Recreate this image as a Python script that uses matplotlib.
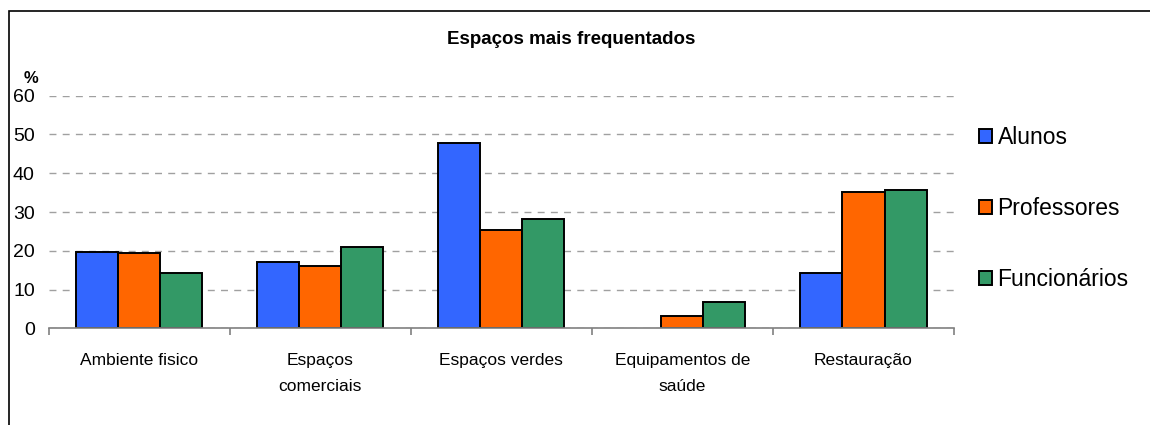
import numpy as np
import matplotlib.pyplot as plt
from matplotlib.patches import Rectangle

plt.rcParams['font.family'] = ['Liberation Sans', 'DejaVu Sans']

# dados do inquérito (%)
categorias = ["Ambiente fisico", "Espaços\ncomerciais", "Espaços verdes",
              "Equipamentos de\nsaúde", "Restauração"]
alunos = [19.8, 17.1, 47.8, 0.0, 14.3]
professores = [19.4, 16.1, 25.4, 3.1, 35.2]
funcionarios = [14.3, 21.1, 28.2, 6.8, 35.7]
series = ["Alunos", "Professores", "Funcionários"]
cores = ["#3366FF", "#FF6600", "#339966"]

fig = plt.figure(figsize=(11.5, 4.25), dpi=100)
ax = fig.add_axes([0.0423, 0.2275, 0.7873, 0.5473])

x = np.arange(len(categorias))
w = 0.232
for i, (vals, nome, cor) in enumerate(zip([alunos, professores, funcionarios], series, cores)):
    # barras com valor zero ficam sem contorno
    lw = [1.4 if v > 0 else 0 for v in vals]
    ax.bar(x + (i - 1) * w, vals, w, color=cor, edgecolor="black", linewidth=lw,
           label=nome, zorder=3)

ax.set_xlim(-0.5, len(categorias) - 0.5)
ax.set_ylim(0, 60)
ax.set_yticks(range(0, 61, 10))
ax.yaxis.grid(True, linestyle=(0, (5, 4.5)), color="#a0a0a0", linewidth=1)
ax.set_axisbelow(True)

for s in ["left", "right", "top"]:
    ax.spines[s].set_visible(False)
ax.spines["bottom"].set_color("#808080")
ax.spines["bottom"].set_linewidth(1.2)
ax.spines["bottom"].set_zorder(4)

ax.set_xticks(x)
ax.set_xticklabels(categorias, fontsize=12.5, linespacing=1.85)
ax.set_xticks(np.arange(-0.5, len(categorias)), minor=True)
ax.tick_params(axis="x", which="major", length=0, pad=18)
ax.tick_params(axis="x", which="minor", length=5, color="#808080", width=1.2)
ax.tick_params(axis="y", length=0, pad=10, labelsize=14)

fig.text(0.497, 0.906, "Espaços mais frequentados", ha="center", va="center",
         fontsize=13.5, fontweight="bold")
fig.text(0.027, 0.816, "%", ha="center", va="center", fontsize=12, fontweight="bold")

ax.legend(loc="center left", bbox_to_anchor=(1.005, 0.515), frameon=False,
          fontsize=16.5, labelspacing=2.1, handlelength=0.55, handleheight=0.55,
          handletextpad=0.25)

# moldura exterior
fig.patches.append(Rectangle((9 / 1150, -0.1), 1.2, 1 - 11 / 425 + 0.1,
                             transform=fig.transFigure, fill=False,
                             edgecolor="black", linewidth=1.2))

fig.savefig("out.png", dpi=100)
